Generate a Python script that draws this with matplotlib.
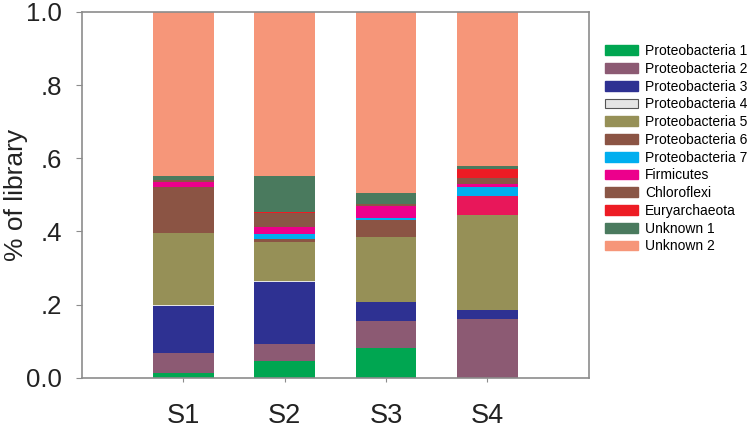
import matplotlib
matplotlib.use("Agg")
import matplotlib.pyplot as plt
from matplotlib.patches import Patch

plt.rcParams['font.family'] = ['Liberation Sans', 'DejaVu Sans']

# samples on the x axis
samples = ["S1", "S2", "S3", "S4"]

# fraction of library per group, one value per sample
proteo1 = [0.012, 0.046, 0.080, 0.000]
proteo2 = [0.055, 0.045, 0.075, 0.160]
proteo3 = [0.130, 0.172, 0.053, 0.025]
proteo4 = [0.002, 0.002, 0.000, 0.000]
proteo5 = [0.196, 0.107, 0.177, 0.259]
proteo6 = [0.127, 0.007, 0.046, 0.053]
proteo7 = [0.000, 0.013, 0.006, 0.025]
firmicutes = [0.014, 0.020, 0.032, 0.009]
chloroflexi = [0.005, 0.037, 0.007, 0.015]
euryarchaeota = [0.000, 0.003, 0.000, 0.026]
unknown1 = [0.010, 0.100, 0.029, 0.006]
unknown2 = [0.449, 0.448, 0.495, 0.422]

groups = ["Proteobacteria 1", "Proteobacteria 2", "Proteobacteria 3", "Proteobacteria 4",
          "Proteobacteria 5", "Proteobacteria 6", "Proteobacteria 7", "Firmicutes",
          "Chloroflexi", "Euryarchaeota", "Unknown 1", "Unknown 2"]
values = [proteo1, proteo2, proteo3, proteo4, proteo5, proteo6, proteo7,
          firmicutes, chloroflexi, euryarchaeota, unknown1, unknown2]
colors = ["#00a651", "#8c5a73", "#2e3192", "#e4e4e4", "#969057", "#8b5444",
          "#00aeef", "#ec008c", "#8a5646", "#ed1c24", "#4a7a5e", "#f69679"]
# the Proteobacteria 6 segment of S4 is drawn in crimson in the original
p6_colors = ["#8b5444", "#8b5444", "#8b5444", "#e8175a"]

fig = plt.figure(figsize=(7.5, 4.28), dpi=100)
ax = fig.add_axes([0.109, 0.1175, 0.676, 0.8545])

x = [1, 2, 3, 4]
bottom = [0.0] * 4
for name, vals, col in zip(groups, values, colors):
    c = p6_colors if name == "Proteobacteria 6" else col
    ax.bar(x, vals, width=0.6, bottom=bottom, color=c, linewidth=0)
    bottom = [b + v for b, v in zip(bottom, vals)]

ax.set_xlim(0, 5)
ax.set_ylim(0, 1.0)
ax.set_xticks(x)
ax.set_xticklabels(samples, fontsize=19.5, color="#222222")
ax.set_yticks([0, 0.2, 0.4, 0.6, 0.8, 1.0])
ax.set_yticklabels(["0.0", ".2", ".4", ".6", ".8", "1.0"], fontsize=18.5, color="#222222")
ax.set_ylabel("% of library", fontsize=19, color="#222222")
ax.yaxis.set_label_coords(-0.106, 0.5)

for s in ax.spines.values():
    s.set_color("#8c8c8c")
    s.set_linewidth(1.2)
ax.tick_params(axis="y", length=4, color="#8c8c8c", pad=10)
ax.tick_params(axis="x", length=3, color="#8c8c8c", pad=15)

handles = []
for name, col in zip(groups, colors):
    if name == "Proteobacteria 4":
        handles.append(Patch(facecolor=col, edgecolor="#555555", linewidth=0.8, label=name))
    else:
        handles.append(Patch(facecolor=col, edgecolor=col, label=name))
fig.legend(handles=handles, loc="upper left", bbox_to_anchor=(0.806, 0.897),
           frameon=False, fontsize=10, handlelength=2.4, handleheight=0.7,
           labelspacing=0.27, handletextpad=0.5, borderaxespad=0, borderpad=0)

fig.savefig("out.png", dpi=100)
